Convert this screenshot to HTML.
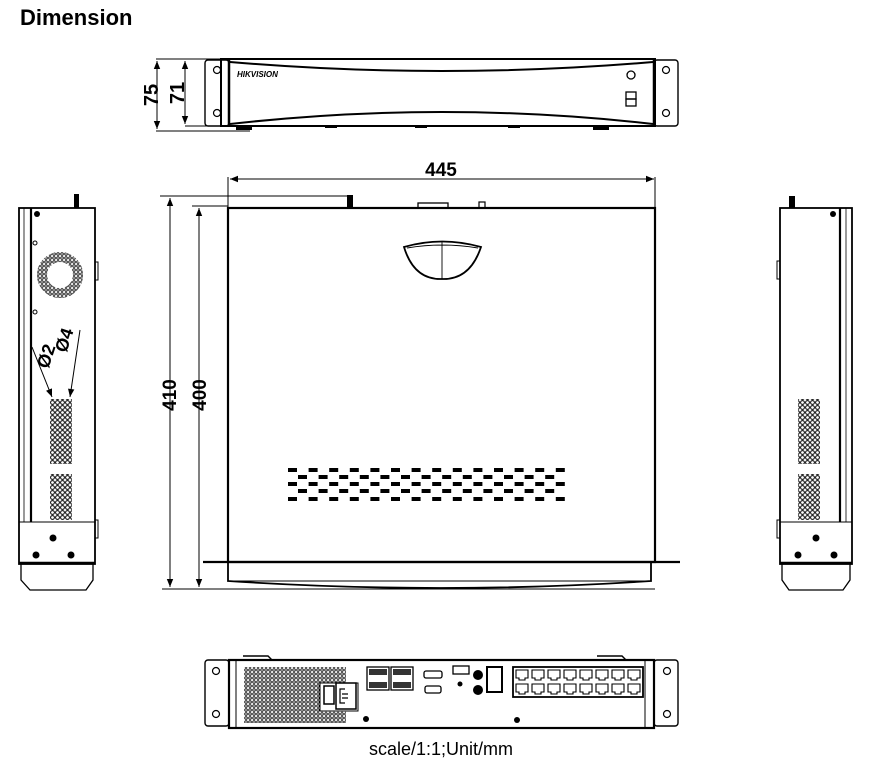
<!DOCTYPE html>
<html><head><meta charset="utf-8"><style>
html,body{margin:0;padding:0;background:#fff;}
svg{display:block;}
</style></head><body>
<svg width="875" height="770" viewBox="0 0 875 770" xmlns="http://www.w3.org/2000/svg">
<defs>
<marker id="ar" viewBox="0 0 10 10" refX="10" refY="5" markerWidth="12" markerHeight="8" orient="auto-start-reverse" markerUnits="userSpaceOnUse"><path d="M0,1 L10,5 L0,9 z" fill="#000"/></marker>
<pattern id="dots" width="4" height="4" patternUnits="userSpaceOnUse"><circle cx="2" cy="2" r="1.3" fill="none" stroke="#000" stroke-width="0.9"/></pattern>
<pattern id="vdots" width="5" height="5" patternUnits="userSpaceOnUse"><circle cx="2.5" cy="2.5" r="1.9" fill="none" stroke="#000" stroke-width="1"/></pattern>
</defs>
<text x="20" y="25" font-family="Liberation Sans, sans-serif" font-weight="bold" font-size="22">Dimension</text>

<!-- FRONT VIEW -->
<g fill="none" stroke="#000">
<rect x="205" y="60" width="24" height="66" rx="3" stroke-width="1.4"/>
<rect x="654" y="60" width="24" height="66" rx="3" stroke-width="1.4"/>
<circle cx="217" cy="70" r="3.5" stroke-width="1.2"/><circle cx="217" cy="113" r="3.5" stroke-width="1.2"/>
<circle cx="666" cy="70" r="3.5" stroke-width="1.2"/><circle cx="666" cy="113" r="3.5" stroke-width="1.2"/>
<rect x="221" y="59" width="434" height="67" stroke-width="2"/>
<path d="M229 59 L229 126 M654 59 L654 126" stroke-width="2.5"/>
<path d="M230 62 Q442 80 653 62" stroke-width="2"/>
<path d="M230 124 Q442 100 653 124" stroke-width="2"/>
<circle cx="631" cy="75" r="4" stroke-width="1.3"/>
<rect x="626" y="92" width="10" height="7" stroke-width="1.3"/><rect x="626" y="99" width="10" height="7" stroke-width="1.3"/>
<path d="M156 59 L260 59 M156 131 L250 131 M185 126 L230 126" stroke-width="1"/>
<line x1="157" y1="61" x2="157" y2="129" marker-start="url(#ar)" marker-end="url(#ar)"/>
<line x1="185" y1="61" x2="185" y2="124" marker-start="url(#ar)" marker-end="url(#ar)"/>
</g>
<rect x="236" y="126" width="16" height="4" fill="#000"/>
<rect x="325" y="126" width="12" height="2" fill="#000"/>
<rect x="415" y="126" width="12" height="2" fill="#000"/>
<rect x="508" y="126" width="12" height="2" fill="#000"/>
<rect x="593" y="126" width="16" height="4" fill="#000"/>
<text x="237" y="77" font-family="Liberation Sans, sans-serif" font-weight="bold" font-style="italic" font-size="8">HIKVISION</text>
<text transform="translate(158,95) rotate(-90)" text-anchor="middle" font-family="Liberation Sans, sans-serif" font-weight="bold" font-size="20">75</text>
<text transform="translate(184,93) rotate(-90)" text-anchor="middle" font-family="Liberation Sans, sans-serif" font-weight="bold" font-size="20">71</text>

<!-- TOP VIEW -->
<g fill="none" stroke="#000">
<line x1="230" y1="179" x2="654" y2="179" marker-start="url(#ar)" marker-end="url(#ar)"/>
<path d="M228 177 L228 208 M655 177 L655 208" stroke-width="1"/>
<path d="M160 196 L352 196 M192 206 L228 206 M162 589 L655 589" stroke-width="1"/>
<line x1="170" y1="198" x2="170" y2="587" marker-start="url(#ar)" marker-end="url(#ar)"/>
<line x1="199" y1="208" x2="199" y2="587" marker-start="url(#ar)" marker-end="url(#ar)"/>
<rect x="228" y="208" width="427" height="354" stroke-width="2.2"/>
<path d="M203 562 L680 562" stroke-width="2.2"/>
<path d="M228 562 L228 581 Q442 595 651 581 L651 562" stroke-width="1.8"/>
<path d="M228 581 L651 581" stroke-width="1"/>
<path d="M404 247 Q442 236 481 247 Q470 280 442 279 Q414 280 404 247 Z" stroke-width="1.8"/>
<path d="M407 248 Q442 242 478 248 M442 242 L442 279" stroke-width="0.9"/>
<rect x="418" y="203" width="30" height="5" stroke-width="1.3"/>
<rect x="479" y="202" width="6" height="6" stroke-width="1.2"/>
</g>
<rect x="347" y="195" width="6" height="13" fill="#000"/>
<g fill="#000">
<g id="rowA">
<rect x="288" y="468" width="9" height="4"/><rect x="308.6" y="468" width="9" height="4"/><rect x="329.2" y="468" width="9" height="4"/><rect x="349.8" y="468" width="9" height="4"/><rect x="370.4" y="468" width="9" height="4"/><rect x="391" y="468" width="9" height="4"/><rect x="411.6" y="468" width="9" height="4"/><rect x="432.2" y="468" width="9" height="4"/><rect x="452.8" y="468" width="9" height="4"/><rect x="473.4" y="468" width="9" height="4"/><rect x="494" y="468" width="9" height="4"/><rect x="514.6" y="468" width="9" height="4"/><rect x="535.2" y="468" width="9" height="4"/><rect x="555.8" y="468" width="9" height="4"/>
</g>
<use href="#rowA" y="14"/><use href="#rowA" y="29"/>
<g id="rowB">
<rect x="298" y="475" width="9" height="4"/><rect x="318.6" y="475" width="9" height="4"/><rect x="339.2" y="475" width="9" height="4"/><rect x="359.8" y="475" width="9" height="4"/><rect x="380.4" y="475" width="9" height="4"/><rect x="401" y="475" width="9" height="4"/><rect x="421.6" y="475" width="9" height="4"/><rect x="442.2" y="475" width="9" height="4"/><rect x="462.8" y="475" width="9" height="4"/><rect x="483.4" y="475" width="9" height="4"/><rect x="504" y="475" width="9" height="4"/><rect x="524.6" y="475" width="9" height="4"/><rect x="545.2" y="475" width="9" height="4"/>
</g>
<use href="#rowB" y="14"/>
</g>
<text x="441" y="176" text-anchor="middle" font-family="Liberation Sans, sans-serif" font-weight="bold" font-size="19">445</text>
<text transform="translate(176,395) rotate(-90)" text-anchor="middle" font-family="Liberation Sans, sans-serif" font-weight="bold" font-size="19">410</text>
<text transform="translate(206,395) rotate(-90)" text-anchor="middle" font-family="Liberation Sans, sans-serif" font-weight="bold" font-size="19">400</text>

<!-- LEFT SIDE -->
<g fill="none" stroke="#000">
<rect x="19" y="208" width="76" height="356" stroke-width="1.8"/>
<line x1="31" y1="208" x2="31" y2="522" stroke-width="2.2"/>
<line x1="24" y1="208" x2="24" y2="522" stroke-width="0.8"/>
<line x1="19" y1="522" x2="95" y2="522" stroke-width="1"/>
<line x1="19" y1="563" x2="95" y2="563" stroke-width="2.5"/>
<path d="M21 564 L21 580 L30 590 L86 590 L93 580 L93 564" stroke-width="1.3"/>
<circle cx="35" cy="243" r="2"/><circle cx="35" cy="312" r="2"/>
<circle cx="60" cy="275" r="18" stroke="url(#dots)" stroke-width="10"/>
<rect x="95" y="262" width="3" height="18"/><rect x="95" y="520" width="3" height="18"/>
<line x1="32" y1="347" x2="52" y2="397" marker-end="url(#ar)"/>
<line x1="80" y1="330" x2="70" y2="397" marker-end="url(#ar)"/>
</g>
<rect x="50" y="399" width="22" height="65" fill="url(#vdots)"/>
<rect x="50" y="474" width="22" height="46" fill="url(#vdots)"/>
<circle cx="37" cy="214" r="3" fill="#000"/>
<circle cx="53" cy="538" r="3.5" fill="#000"/><circle cx="36" cy="555" r="3.5" fill="#000"/><circle cx="71" cy="555" r="3.5" fill="#000"/>
<rect x="74" y="194" width="5" height="14" fill="#000"/>
<text transform="translate(52,358) rotate(-72)" text-anchor="middle" font-family="Liberation Sans, sans-serif" font-weight="bold" font-size="18">Ø2</text>
<text transform="translate(70,342) rotate(-72)" text-anchor="middle" font-family="Liberation Sans, sans-serif" font-weight="bold" font-size="18">Ø4</text>

<!-- RIGHT SIDE -->
<g fill="none" stroke="#000">
<rect x="780" y="208" width="72" height="356" stroke-width="1.8"/>
<line x1="840" y1="208" x2="840" y2="522" stroke-width="2.2"/>
<line x1="846" y1="208" x2="846" y2="522" stroke-width="0.8"/>
<line x1="780" y1="522" x2="852" y2="522" stroke-width="1"/>
<line x1="780" y1="563" x2="852" y2="563" stroke-width="2.5"/>
<path d="M782 564 L782 580 L789 590 L843 590 L850 580 L850 564" stroke-width="1.3"/>
<rect x="777" y="261" width="3" height="18"/><rect x="777" y="520" width="3" height="18"/>
</g>
<rect x="798" y="399" width="22" height="65" fill="url(#vdots)"/>
<rect x="798" y="474" width="22" height="46" fill="url(#vdots)"/>
<circle cx="833" cy="214" r="3" fill="#000"/>
<circle cx="816" cy="538" r="3.5" fill="#000"/><circle cx="798" cy="555" r="3.5" fill="#000"/><circle cx="834" cy="555" r="3.5" fill="#000"/>
<rect x="789" y="196" width="6" height="12" fill="#000"/>

<!-- REAR VIEW -->
<g fill="none" stroke="#000">
<rect x="205" y="660" width="24" height="66" rx="3" stroke-width="1.4"/>
<rect x="654" y="660" width="24" height="66" rx="3" stroke-width="1.4"/>
<circle cx="216" cy="671" r="3.5" stroke-width="1.2"/><circle cx="216" cy="714" r="3.5" stroke-width="1.2"/>
<circle cx="667" cy="671" r="3.5" stroke-width="1.2"/><circle cx="667" cy="714" r="3.5" stroke-width="1.2"/>
<rect x="229" y="660" width="425" height="68" stroke-width="2.2"/>
<line x1="236" y1="660" x2="236" y2="728" stroke-width="1"/>
<line x1="645" y1="660" x2="645" y2="728" stroke-width="1"/>
<path d="M243 656 L268 656 L272 660 M597 656 L622 656 L626 660" stroke-width="1.4"/>
<rect x="367" y="667" width="22" height="23" stroke-width="1.3"/>
<rect x="391" y="667" width="22" height="23" stroke-width="1.3"/>
<rect x="424" y="671" width="18" height="7" rx="2" stroke-width="1.3"/>
<rect x="425" y="686" width="16" height="7" rx="2" stroke-width="1.3"/>
<rect x="453" y="666" width="16" height="8" stroke-width="1.3"/>
<rect x="487" y="667" width="15" height="25" stroke-width="2"/>
<rect x="513" y="667" width="130" height="30" stroke-width="1.8"/>
</g>
<rect x="244" y="667" width="102" height="56" fill="url(#dots)"/>
<rect x="320" y="683" width="38" height="28" fill="#fff" stroke="#000"/>
<rect x="324" y="686" width="10" height="18" fill="#fff" stroke="#000" stroke-width="1.5"/>
<rect x="336" y="683" width="20" height="26" fill="#fff" stroke="#000" stroke-width="1.5"/>
<path d="M345 689 L340 689 L340 703 L345 703 M342 694 L348 694 M342 698 L348 698" fill="none" stroke="#000" stroke-width="1.2"/>
<circle cx="366" cy="719" r="3" fill="#000"/>
<circle cx="517" cy="720" r="3" fill="#000"/>
<circle cx="460" cy="684" r="2.5" fill="#000"/>
<circle cx="478" cy="675" r="5" fill="#000"/><circle cx="478" cy="690" r="5" fill="#000"/>
<rect x="369" y="669" width="18" height="6" fill="#333"/><rect x="393" y="669" width="18" height="6" fill="#333"/>
<rect x="369" y="682" width="18" height="6" fill="#333"/><rect x="393" y="682" width="18" height="6" fill="#333"/>
<g fill="none" stroke="#000" stroke-width="1.1">
<path d="M516 670 h12 v8 h-3 v2 h-6 v-2 h-3 z"/><path d="M532 670 h12 v8 h-3 v2 h-6 v-2 h-3 z"/><path d="M548 670 h12 v8 h-3 v2 h-6 v-2 h-3 z"/><path d="M564 670 h12 v8 h-3 v2 h-6 v-2 h-3 z"/><path d="M580 670 h12 v8 h-3 v2 h-6 v-2 h-3 z"/><path d="M596 670 h12 v8 h-3 v2 h-6 v-2 h-3 z"/><path d="M612 670 h12 v8 h-3 v2 h-6 v-2 h-3 z"/><path d="M628 670 h12 v8 h-3 v2 h-6 v-2 h-3 z"/>
<path d="M516 684 h12 v8 h-3 v2 h-6 v-2 h-3 z"/><path d="M532 684 h12 v8 h-3 v2 h-6 v-2 h-3 z"/><path d="M548 684 h12 v8 h-3 v2 h-6 v-2 h-3 z"/><path d="M564 684 h12 v8 h-3 v2 h-6 v-2 h-3 z"/><path d="M580 684 h12 v8 h-3 v2 h-6 v-2 h-3 z"/><path d="M596 684 h12 v8 h-3 v2 h-6 v-2 h-3 z"/><path d="M612 684 h12 v8 h-3 v2 h-6 v-2 h-3 z"/><path d="M628 684 h12 v8 h-3 v2 h-6 v-2 h-3 z"/>
</g>
<text x="441" y="755" text-anchor="middle" font-family="Liberation Sans, sans-serif" font-size="18">scale/1:1;Unit/mm</text>
</svg>
</body></html>
